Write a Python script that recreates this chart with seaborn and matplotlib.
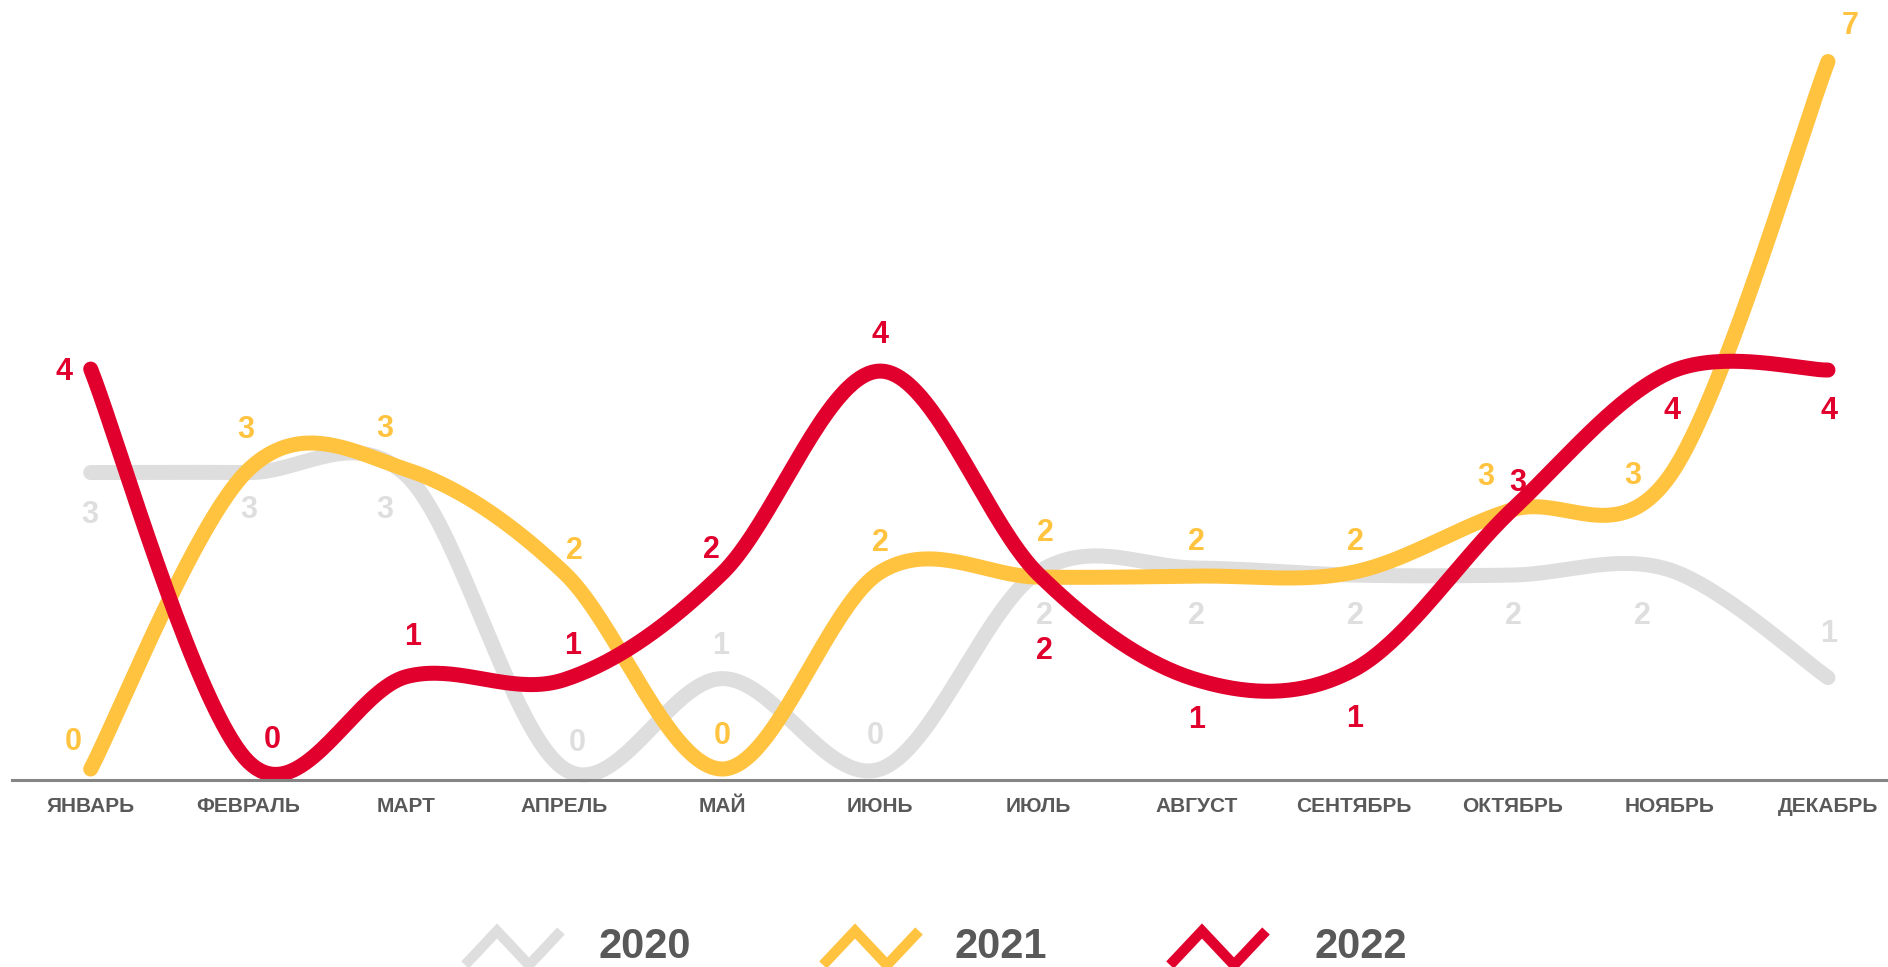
import matplotlib
matplotlib.use("Agg")
import matplotlib.pyplot as plt
import numpy as np
import pandas as pd
import seaborn as sns
from matplotlib.lines import Line2D

MONTHS = ["ЯНВАРЬ", "ФЕВРАЛЬ", "МАРТ", "АПРЕЛЬ", "МАЙ", "ИЮНЬ",
          "ИЮЛЬ", "АВГУСТ", "СЕНТЯБРЬ", "ОКТЯБРЬ", "НОЯБРЬ", "ДЕКАБРЬ"]
YEARS = ["2020", "2021", "2022"]
VALUES_2020 = [2.95, 2.95, 2.92, 0.0, 0.90, 0.0, 1.96, 2.00, 1.93, 1.93, 1.98, 0.91]
VALUES_2021 = [0.0, 2.98, 2.98, 1.95, 0.0, 1.96, 1.91, 1.92, 1.96, 2.58, 2.92, 7.04]
VALUES_2022 = [3.98, 0.07, 0.92, 0.89, 1.95, 3.96, 1.94, 0.89, 0.99, 2.58, 3.95, 3.97]

COLORS = {"2020": "#DEDEDE", "2021": "#FFC340", "2022": "#E1002D"}
TEXT_COLOR = "#595959"

# data label placement, pixels from the point (dx to the right, dy downwards)
LABEL_OFFSETS = {
    "2020": [(-1, 39), (0, 34), (-22, 31), (13, -29), (-2, -36), (-5, -36),
             (6, 41), (0, 45), (1, 38), (1, 38), (-28, 43), (1, -47)],
    "2021": [(-17, -30), (-3, -42), (-22, -43), (10, -25), (0, -36), (0, -32),
             (7, -47), (0, -37), (1, -33), (-26, -36), (-37, -3), (22, -38)],
    "2022": [(-27, 0), (24, -25), (6, -43), (8, -37), (-11, -26), (0, -39),
             (6, 74), (0, 37), (0, 47), (6, -30), (2, 36), (1, 38)],
}

# legend layout in figure pixels: first peak of the zigzag icon, text left edge
LEGEND_ICON_X = [497, 855, 1202]
LEGEND_TEXT_X = [598, 954, 1315]

W, H = 1888, 967


def smooth_curve(values, steps=40):
    """Catmull-Rom style bezier smoothing (like office 'smoothed line')."""
    y = np.asarray(values, dtype=float)
    x = np.arange(len(y), dtype=float)
    xp = np.concatenate([[x[0]], x, [x[-1]]])
    yp = np.concatenate([[y[0]], y, [y[-1]]])
    t = np.linspace(0, 1, steps)
    xs, ys = [], []
    for i in range(len(y) - 1):
        p0 = np.array([xp[i + 1], yp[i + 1]])
        p3 = np.array([xp[i + 2], yp[i + 2]])
        c1 = p0 + (np.array([xp[i + 2], yp[i + 2]]) - np.array([xp[i], yp[i]])) / 6
        c2 = p3 - (np.array([xp[i + 3], yp[i + 3]]) - np.array([xp[i + 1], yp[i + 1]])) / 6
        tt = t if i == 0 else t[1:]
        b = ((1 - tt) ** 3)[:, None] * p0 + (3 * (1 - tt) ** 2 * tt)[:, None] * c1 \
            + (3 * (1 - tt) * tt ** 2)[:, None] * c2 + (tt ** 3)[:, None] * p3
        xs.append(b[:, 0])
        ys.append(b[:, 1])
    return np.concatenate(xs), np.concatenate(ys)


series = {"2020": VALUES_2020, "2021": VALUES_2021, "2022": VALUES_2022}

frames = []
for year in YEARS:
    sx, sy = smooth_curve(series[year])
    frames.append(pd.DataFrame({"x": sx, "y": sy, "year": year}))
curves = pd.concat(frames, ignore_index=True)

sns.set_theme(style="white")
plt.rcParams["font.family"] = ["Liberation Sans", "DejaVu Sans"]

fig = plt.figure(figsize=(W / 100, H / 100), dpi=100)
ax = fig.add_axes([11.7 / W, 1 - 780 / H, 1 - 11.7 / W, 780 / H])

sns.lineplot(data=curves, x="x", y="y", hue="year", hue_order=YEARS,
             palette=COLORS, linewidth=10.8, sort=False, estimator=None,
             legend=False, ax=ax, solid_capstyle="round", clip_on=False)

ax.set_xlim(-0.5, 11.38)
ax.set_ylim(-0.109, 7.652)

label_size = 22
half_digit = 0.716 * label_size * 100 / 72 / 2
for year in YEARS:
    for i, v in enumerate(series[year]):
        dx, dy = LABEL_OFFSETS[year][i]
        ax.annotate(f"{round(v):d}", xy=(i, v), xytext=(dx, -(dy + half_digit)),
                    textcoords="offset pixels", ha="center", va="baseline",
                    fontsize=label_size, fontweight="bold", color=COLORS[year],
                    annotation_clip=False)

ax.set_xticks(range(len(MONTHS)), MONTHS, fontweight="bold")
ax.set_yticks([])
ax.tick_params(axis="x", length=0, pad=12.5, labelsize=15, labelcolor=TEXT_COLOR)
ax.set_xlabel("")
ax.set_ylabel("")
for side in ["top", "left", "right"]:
    ax.spines[side].set_visible(False)
ax.spines["bottom"].set_color("#858585")
ax.spines["bottom"].set_linewidth(2.2)

# legend: zigzag icons and year labels
for year, px, tx in zip(YEARS, LEGEND_ICON_X, LEGEND_TEXT_X):
    ix = np.array([px - 32, px, px + 32, px + 64])
    iy = np.array([965, 931, 965, 931])
    fig.add_artist(Line2D(ix / W, 1 - iy / H, transform=fig.transFigure,
                          color=COLORS[year], linewidth=7.5,
                          solid_joinstyle="miter", solid_capstyle="butt"))
    fig.text(tx / W, 1 - 958 / H, year, ha="left", va="baseline",
             fontsize=30, fontweight="bold", color=TEXT_COLOR)

fig.savefig("out.png", dpi=100)
